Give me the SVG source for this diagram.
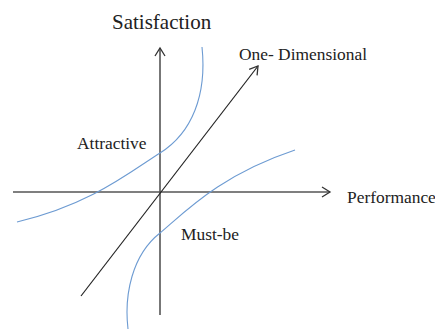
<svg xmlns="http://www.w3.org/2000/svg" width="435" height="329" viewBox="0 0 435 329">
<style>
.axis{stroke:#555;stroke-width:1.6;fill:none}
.diag{stroke:#222;stroke-width:1.2;fill:none}
.curve{stroke:#6d9bd2;stroke-width:1.1;fill:none}
.lbl{font-family:"Liberation Serif","Times New Roman",serif;font-size:17.4px;fill:#222}
.title{font-family:"Liberation Serif","Times New Roman",serif;font-size:21px;fill:#222}
</style>
<defs>
<marker id="ah" markerWidth="12" markerHeight="12" refX="10" refY="6" orient="auto" markerUnits="userSpaceOnUse">
<path d="M2,1 L10,6 L2,11" fill="none" stroke="#333" stroke-width="1.3"/>
</marker>
</defs>
<rect width="435" height="329" fill="#fff"/>
<g id="connectors">
<line class="axis" x1="160" y1="315" x2="160" y2="48" marker-end="url(#ah)"/>
<line class="axis" x1="13" y1="192" x2="330" y2="192" marker-end="url(#ah)"/>
<line class="diag" x1="81" y1="296" x2="258" y2="66" marker-end="url(#ah)"/>
<path class="curve" d="M202,47 C207,95 192,133 160,153 C130,172 90,205 17,222"/>
<path class="curve" d="M128,329 C124,295 132,255 160,233 C185,212 220,175 295,150"/>
</g>
<g id="satisfaction"><text class="title" x="112" y="29">Satisfaction</text></g>
<g id="one-dimensional"><text class="lbl" x="239" y="60">One- Dimensional</text></g>
<g id="attractive"><text class="lbl" x="77" y="149">Attractive</text></g>
<g id="performance"><text class="lbl" x="347" y="203">Performance</text></g>
<g id="must-be"><text class="lbl" x="181" y="240">Must-be</text></g>
</svg>
